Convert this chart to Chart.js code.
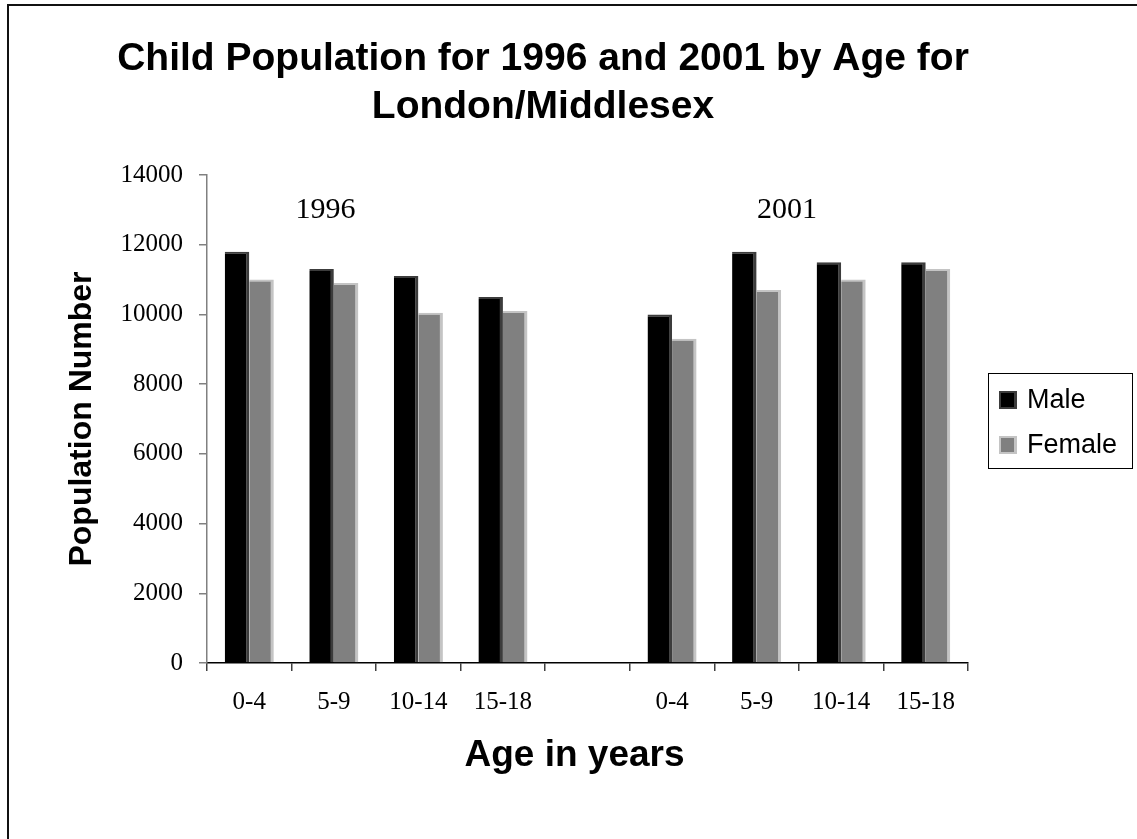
<!DOCTYPE html>
<html>
<head>
<meta charset="utf-8">
<script src="https://cdn.jsdelivr.net/npm/chart.js@4.4.1/dist/chart.umd.min.js"></script>
<style>
  html, body { margin: 0; padding: 0; background: #fff; overflow: hidden; }
  #wrap { position: relative; width: 1137px; height: 839px; }
  #frame { position: absolute; left: 7px; top: 4px; width: 2000px; height: 2000px;
           border: 2px solid #111; box-sizing: border-box; pointer-events: none; }
  canvas { position: absolute; left: 0; top: 0; }
</style>
</head>
<body>
<div id="wrap">
  <canvas id="chart" width="1137" height="839"></canvas>
  <div id="frame"></div>
</div>
<script>
// Age bands for the two census years (blank slot separates the years)
const ageGroups = ['0-4', '5-9', '10-14', '15-18', '', '0-4', '5-9', '10-14', '15-18'];
const maleCounts   = [11800, 11300, 11100, 10500, null, 10000, 11800, 11500, 11500];
const femaleCounts = [11000, 10900, 10050, 10100, null, 9300, 10700, 11000, 11300];
const yTickValues  = [0, 2000, 4000, 6000, 8000, 10000, 12000, 14000];
const yearLabels   = ['1996', '2001'];
const yearLabelIndex = [0.9, 6.36];
const yearLabelValue = 13000;

const titleLines = ['Child Population for 1996 and 2001 by Age for', 'London/Middlesex'];

const decorations = {
  id: 'decorations',
  afterDraw(chart) {
    const { ctx, scales: { x, y }, chartArea } = chart;
    ctx.save();
    // Title
    ctx.fillStyle = '#000';
    ctx.textAlign = 'center';
    ctx.textBaseline = 'middle';
    ctx.font = 'bold 39px "Liberation Sans", Arial, sans-serif';
    ctx.fillText(titleLines[0], 543, 59);
    ctx.fillText(titleLines[1], 543, 107);

    // Year captions above each group
    ctx.font = '30px "Liberation Serif", "Times New Roman", serif';
    yearLabels.forEach((t, i) => {
      ctx.fillText(t, x.getPixelForValue(yearLabelIndex[i]), y.getPixelForValue(yearLabelValue));
    });

    // X axis title
    ctx.font = 'bold 37px "Liberation Sans", Arial, sans-serif';
    ctx.fillText('Age in years', (chartArea.left + chartArea.right) / 2 - 13, 756);

    // Legend
    const lx = 988, ly = 373, lw = 144, lh = 95;
    ctx.lineWidth = 1;
    ctx.strokeStyle = '#000';
    ctx.strokeRect(lx + 0.5, ly + 0.5, lw, lh);
    const rows = [400, 445];
    chart.data.datasets.forEach((ds, i) => {
      const cy = rows[i];
      const s = 18, mx = 999, my = cy - s / 2;
      ctx.fillStyle = ds.borderColor;
      ctx.fillRect(mx, my, s, s);
      ctx.fillStyle = ds.backgroundColor;
      ctx.fillRect(mx + 2, my + 2, s - 5, s - 4);
      ctx.fillStyle = '#000';
      ctx.textAlign = 'left';
      ctx.font = '27px "Liberation Sans", Arial, sans-serif';
      ctx.fillText(ds.label, 1027, cy + 1);
    });
    ctx.restore();
  }
};

new Chart(document.getElementById('chart'), {
  type: 'bar',
  data: {
    labels: ageGroups,
    datasets: [
      {
        label: 'Male',
        data: maleCounts,
        backgroundColor: '#000000',
        borderColor: '#3c3c3c',
        borderWidth: { top: 2, right: 3, bottom: 0, left: 0 },
        borderSkipped: 'start'
      },
      {
        label: 'Female',
        data: femaleCounts,
        backgroundColor: '#808080',
        borderColor: '#c4c4c4',
        borderWidth: { top: 2, right: 3, bottom: 0, left: 0 },
        borderSkipped: 'start'
      }
    ]
  },
  options: {
    responsive: false,
    animation: false,
    devicePixelRatio: 1,
    categoryPercentage: 0.58,
    barPercentage: 1.0,
    layout: { padding: { top: 175, right: 169, bottom: 0, left: 0 } },
    plugins: {
      legend: { display: false },
      title: { display: false },
      tooltip: { enabled: false }
    },
    scales: {
      x: {
        offset: true,
        grid: {
          offset: true,
          drawOnChartArea: false,
          drawTicks: true,
          tickLength: 8,
          tickColor: '#404040',
          lineWidth: 1.5
        },
        border: { display: true, color: '#000', width: 1.5 },
        ticks: {
          color: '#000',
          padding: 16,
          maxRotation: 0,
          autoSkip: false,
          font: { family: '"Liberation Serif", "Times New Roman", serif', size: 25 }
        },
        afterFit(scale) { scale.height = 176; }
      },
      y: {
        min: 0,
        max: 14000,
        afterBuildTicks(scale) { scale.ticks = yTickValues.map(v => ({ value: v })); },
        grid: {
          drawOnChartArea: false,
          drawTicks: true,
          tickLength: 8,
          tickColor: '#808080',
          lineWidth: 1.5
        },
        border: { display: true, color: '#808080', width: 1.5 },
        ticks: {
          color: '#000',
          padding: 16,
          callback: (v) => String(v),
          font: { family: '"Liberation Serif", "Times New Roman", serif', size: 25 }
        },
        title: {
          display: true,
          text: 'Population Number',
          color: '#000',
          padding: { top: 63, bottom: 0 },
          font: { family: '"Liberation Sans", Arial, sans-serif', size: 32, weight: 'bold', lineHeight: 1.2 }
        },
        afterFit(scale) { scale.width = 207; }
      }
    }
  },
  plugins: [decorations]
});
</script>
</body>
</html>
